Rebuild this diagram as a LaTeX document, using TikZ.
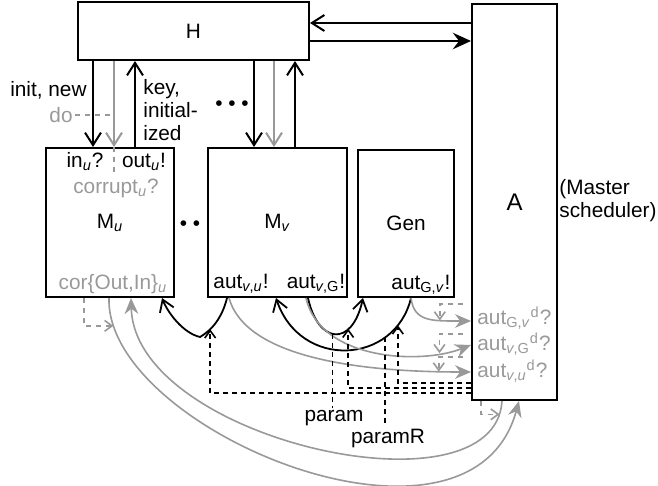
\documentclass[tikz,border=0pt]{standalone}
\usepackage{fontspec}
\setmainfont{Liberation Sans}
\usetikzlibrary{arrows.meta,calc}
\definecolor{dim}{HTML}{999999}
\newcommand{\sub}[1]{\textsubscript{#1}}
\newcommand{\vi}[1]{\textit{#1}}
\tikzset{
  box/.style={draw=black, line width=1pt, inner sep=0pt, font=\fontsize{10.4}{12}\selectfont},
  lbl/.style={inner sep=1pt, font=\fontsize{10.4}{11.5}\selectfont},
  dimlbl/.style={lbl, text=dim},
  arrow/.style={-{Straight Barb[length=2.2mm,width=2.8mm]}, line width=1pt},
  dimarrow/.style={arrow, draw=dim},
  fillarr/.style={-{Stealth[length=3.2mm,width=2.9mm,inset=1.1mm]}, line width=1pt},
  msgcurve/.style={-{Straight Barb[length=2mm,width=2.6mm]}, line width=0.9pt},
  dimcurve/.style={-{Stealth[length=2.8mm,width=2.4mm,inset=0.9mm]}, line width=0.8pt, draw=dim},
  dashline/.style={dash pattern=on 2.5pt off 2pt, line width=0.8pt},
  dasharr/.style={dashline, -{Straight Barb[length=1.3mm,width=1.9mm]}},
  dimdash/.style={draw=dim, dash pattern=on 2.5pt off 2.5pt, line width=0.8pt},
  dimdasharr/.style={dimdash, -{Straight Barb[length=1.3mm,width=1.9mm]}}
}
\begin{document}
\begin{tikzpicture}[x=0.5pt, y=-0.5pt]
  \useasboundingbox (0,0) rectangle (658,486);
  \node[box, minimum width=115.5pt, minimum height=29pt] (h) at (193.5,31) {H};
  \node[box, minimum width=42.5pt, minimum height=198pt, font=\fontsize{12}{14}\selectfont] (a) at (514.5,202) {A};
  \node[box, minimum width=64pt, minimum height=74.5pt] (mu) at (110,222.5) {M\sub{\vi{u}}};
  \node[box, minimum width=69.5pt, minimum height=74.5pt] (mv) at (277.5,222.5) {M\sub{\vi{v}}};
  \node[box, minimum width=48pt, minimum height=73.5pt] (gen) at (406,223.5) {Gen};
  \draw[arrow] ([xshift=8pt]h.south west) -- ([xshift=24pt]mu.north west);
  \draw[dimarrow] ([xshift=18.5pt]h.south west) coordinate (g1) -- ([xshift=34.5pt]mu.north west) coordinate (g2);
  \draw[arrow] ([xshift=45pt]mu.north west) -- ([xshift=29pt]h.south west);
  \draw[arrow] ([xshift=88.5pt]h.south west) -- ([xshift=23.5pt]mv.north west);
  \draw[dimarrow] ([xshift=98.5pt]h.south west) -- ([xshift=33.5pt]mv.north west);
  \draw[arrow] ([xshift=44pt]mv.north west) -- ([xshift=109pt]h.south west);
  \draw[arrow] ([yshift=89.5pt]a.west) -- ([yshift=4pt]h.east);
  \draw[fillarr] ([yshift=-5pt]h.east) -- ([yshift=80.5pt]a.west);
  \node[lbl, anchor=east] (init) at (89,90) {init, new};
  \node[dimlbl, anchor=east] (do) at (75,115) {do};
  \draw[dimdash] (do.east) -- (do.east -| g1);
  \node[lbl, anchor=west, align=left] (key) at (141,110) {key,\\initial-\\ized};
  \node[lbl] (dots) at (232,106) {• • •};
  \node[lbl] (gap) at (190,226) {• •};
  \node[lbl] (inu) at (85,162) {in\sub{\vi{u}}?};
  \node[lbl] (outu) at (144,162) {out\sub{\vi{u}}!};
  \node[dimlbl] (cru) at (116,188) {corrupt\sub{\vi{u}}?};
  \draw[dimdash] (g2) -- (g2 |- cru.north);
  \node[dimlbl] (coru) at (113,284) {cor\{Out,In\}\sub{\vi{u}}};
  \node[lbl] (avu) at (241,284) {aut\sub{\vi{v},\vi{u}}!};
  \node[lbl] (avg) at (316,284) {aut\sub{\vi{v},G}!};
  \node[lbl] (agv) at (421,285) {aut\sub{G,\vi{v}}!};
  \node[dimlbl, anchor=west] (dgv) at (475,318) {aut\sub{G,\vi{v}}\textsuperscript{d}?};
  \node[dimlbl, anchor=west] (dvg) at (475,344) {aut\sub{\vi{v},G}\textsuperscript{d}?};
  \node[dimlbl, anchor=west] (dvu) at (475,371) {aut\sub{\vi{v},\vi{u}}\textsuperscript{d}?};
  \node[lbl, anchor=west, align=left] (ms) at (557,201) {(Master\\scheduler)};
  \draw[msgcurve] ([xshift=10pt]mv.south west) .. controls (222,318) and (212,330) .. (200,337) coordinate[pos=0.7] (pa) .. controls (183,333) and (168,313) .. ([xshift=58.5pt]mu.south west);
  \draw[msgcurve] ([xshift=27pt]gen.south west) .. controls (395,365) and (300,370) .. ([xshift=34.5pt]mv.south west) coordinate[pos=0.16] (pb) coordinate[pos=0.26] (prl);
  \draw[msgcurve] ([xshift=50.5pt]mv.south west) .. controls (318,344) and (352,348) .. ([xshift=3pt]gen.south west) coordinate[pos=0.46] (pl) coordinate[pos=0.7] (pc);
  \draw[dimcurve] ([xshift=27pt]gen.south west) .. controls (414,322) and (432,321) .. ([yshift=-59.5pt]a.west) coordinate[pos=0.68] (d1);
  \draw[dimcurve] ([xshift=49.5pt]mv.south west) .. controls (320,360) and (420,365) .. ([yshift=-71.5pt]a.west) coordinate[pos=0.82] (d2);
  \draw[dimcurve] ([xshift=11pt]mv.south west) .. controls (245,355) and (350,372) .. ([yshift=-85pt]a.west) coordinate[pos=0.91] (d3);
  \draw[dimcurve] ([xshift=32pt]mu.south west) .. controls (105,430) and (470,580) .. ([xshift=24pt]a.south west) coordinate[pos=0.07] (cu);
  \draw[dimcurve] ([xshift=15.5pt]a.south west) .. controls (495,520) and (135,440) .. ([xshift=43pt]mu.south west) coordinate[pos=0.04] (ci);
  \draw[dasharr] ([yshift=4pt]a.south west) -| (pa);
  \draw[dasharr] ([yshift=6.5pt]a.south west) -| (pc);
  \draw[dasharr] ([yshift=9pt]a.south west) -| (pb);
  \node[lbl] (param) at (334,418) {param};
  \node[lbl] (paramr) at (388,439) {paramR};
  \draw[dashline] (pl) -- (pl |- param.north);
  \draw[dashline] (prl) -- (prl |- paramr.north);
  \draw[dimdasharr] ([xshift=19.5pt]mu.south west) |- (cu);
  \draw[dimdasharr] ([xshift=5pt]a.south west) |- (ci);
  \draw[dimdasharr] ([xshift=-4pt,yshift=-51pt]a.west) -| (d1);
  \draw[dimdasharr] ([xshift=-4pt,yshift=-66pt]a.west) -| (d2);
  \draw[dimdasharr] ([xshift=-4pt,yshift=-77.5pt]a.west) -| (d3);
\end{tikzpicture}
\end{document}
